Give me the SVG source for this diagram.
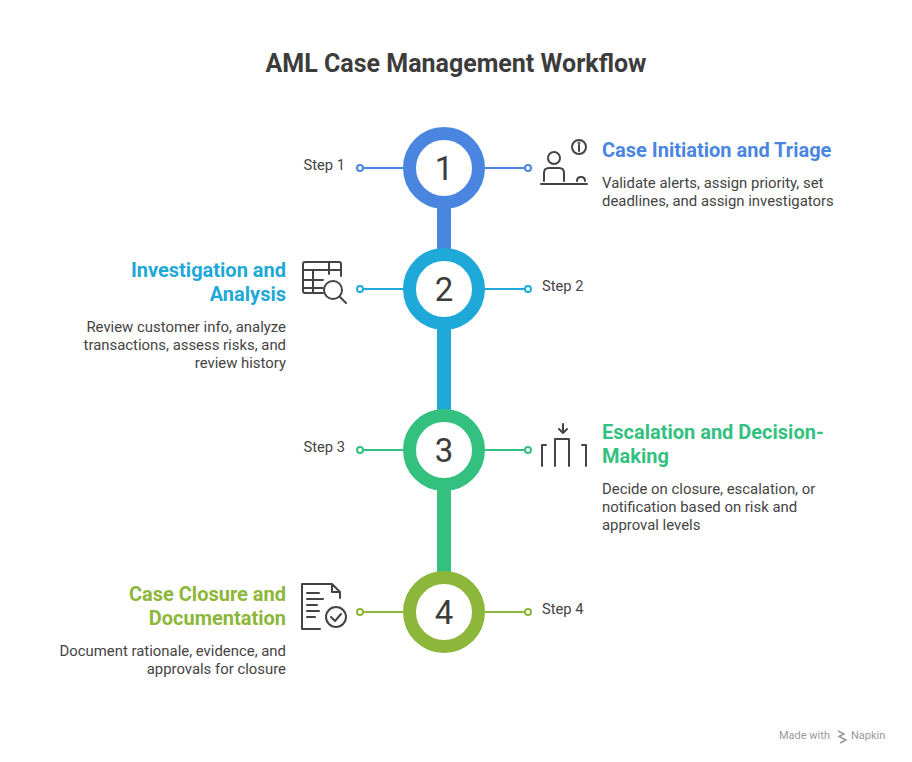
<svg xmlns="http://www.w3.org/2000/svg" width="912" height="762" viewBox="0 0 912 762">
<style>
text{font-family:Roboto,"Liberation Sans",sans-serif}
.t{font-size:25px;font-weight:bold;fill:#3c3c3c}
.h{font-size:20px;font-weight:bold}
.d{font-size:14.9px;fill:#444}
.s{font-size:14.7px;fill:#444}
.n{font-size:33px;fill:#3c3c3c;text-anchor:middle}
.ic{fill:none;stroke:#444;stroke-width:2;stroke-linecap:round;stroke-linejoin:round}
.dot{fill:#fff;stroke-width:2}
</style>
<rect width="912" height="762" fill="#fff"/>
<text class="t" x="456" y="72" text-anchor="middle">AML Case Management Workflow</text>
<g id="connectors">
<rect x="437" y="205" width="14" height="48" fill="#4A86E0"/>
<rect x="437" y="326" width="14" height="88" fill="#1EA9D8"/>
<rect x="437" y="487" width="14" height="89" fill="#34C17F"/>
<g stroke="#4A86E0" stroke-width="2"><line x1="363" y1="168" x2="404" y2="168"/><line x1="484" y1="168" x2="525" y2="168"/><circle class="dot" cx="360" cy="168" r="3"/><circle class="dot" cx="528" cy="168" r="3"/></g>
<g stroke="#1EA9D8" stroke-width="2"><line x1="363" y1="289" x2="404" y2="289"/><line x1="484" y1="289" x2="525" y2="289"/><circle class="dot" cx="360" cy="289" r="3"/><circle class="dot" cx="528" cy="289" r="3"/></g>
<g stroke="#34C17F" stroke-width="2"><line x1="363" y1="450" x2="404" y2="450"/><line x1="484" y1="450" x2="525" y2="450"/><circle class="dot" cx="360" cy="450" r="3"/><circle class="dot" cx="528" cy="450" r="3"/></g>
<g stroke="#8DB73A" stroke-width="2"><line x1="363" y1="612" x2="404" y2="612"/><line x1="484" y1="612" x2="525" y2="612"/><circle class="dot" cx="360" cy="612" r="3"/><circle class="dot" cx="528" cy="612" r="3"/></g>
</g>
<g id="step1">
<circle cx="444" cy="168" r="34.5" fill="#fff" stroke="#4A86E0" stroke-width="13"/>
<text class="n" x="444" y="180">1</text>
<text class="s" x="345" y="170" text-anchor="end">Step 1</text>
<g class="ic"><circle cx="554" cy="158" r="6"/><path d="M544 181v-8q0-5 5-5h10q5 0 5 5v8M541 184h46M577 181q0-4 4-4t4 4"/><circle cx="579" cy="147" r="7"/><path d="M579 145v6"/><circle cx="579" cy="143" r="0.5"/></g>
<text class="h" x="602" y="157" fill="#4A86E0">Case Initiation and Triage</text>
<text class="d" x="602" y="188">Validate alerts, assign priority, set</text>
<text class="d" x="602" y="206">deadlines, and assign investigators</text>
</g>
<g id="step2">
<circle cx="444" cy="289" r="34.5" fill="#fff" stroke="#1EA9D8" stroke-width="13"/>
<text class="n" x="444" y="301">2</text>
<text class="s" x="542" y="291">Step 2</text>
<g class="ic"><path d="M323 293h-18q-2 0-2-2v-27q0-2 2-2h34q2 0 2 2v12M303 270h38M303 280h20M303 288h20M313 270v23M329 262v12"/><circle cx="333" cy="290" r="9"/><path d="M340 297l6 6"/></g>
<text class="h" x="286" y="277" text-anchor="end" fill="#1EA9D8">Investigation and</text>
<text class="h" x="286" y="301" text-anchor="end" fill="#1EA9D8">Analysis</text>
<text class="d" x="286" y="332" text-anchor="end">Review customer info, analyze</text>
<text class="d" x="286" y="350" text-anchor="end">transactions, assess risks, and</text>
<text class="d" x="286" y="368" text-anchor="end">review history</text>
</g>
<g id="step3">
<circle cx="444" cy="450" r="34.5" fill="#fff" stroke="#34C17F" stroke-width="13"/>
<text class="n" x="444" y="462">3</text>
<text class="s" x="345" y="452" text-anchor="end">Step 3</text>
<g class="ic"><path d="M542 466v-21h4M555 466v-27h14v27M586 466v-21h-4M563 424v9M559 429l4 4 4-4"/></g>
<text class="h" x="602" y="439" fill="#34C17F">Escalation and Decision-</text>
<text class="h" x="602" y="463" fill="#34C17F">Making</text>
<text class="d" x="602" y="494">Decide on closure, escalation, or</text>
<text class="d" x="602" y="512">notification based on risk and</text>
<text class="d" x="602" y="530">approval levels</text>
</g>
<g id="step4">
<circle cx="444" cy="612" r="34.5" fill="#fff" stroke="#8DB73A" stroke-width="13"/>
<text class="n" x="444" y="624">4</text>
<text class="s" x="542" y="614">Step 4</text>
<g class="ic"><path d="M320 629h-18v-45h30l8 8v6M332 584v8h8M307 593h12M307 599h16M307 605h10M307 611h12M307 617h8"/><circle cx="336" cy="617" r="10"/><path d="M331 617l4 4 6-7"/></g>
<text class="h" x="286" y="601" text-anchor="end" fill="#8DB73A">Case Closure and</text>
<text class="h" x="286" y="625" text-anchor="end" fill="#8DB73A">Documentation</text>
<text class="d" x="286" y="656" text-anchor="end">Document rationale, evidence, and</text>
<text class="d" x="286" y="674" text-anchor="end">approvals for closure</text>
</g>
<text x="779" y="739" font-size="11" fill="#999">Made with</text>
<path d="M838 731l6 3-6 3M840 737l6 3-6 3" fill="none" stroke="#999" stroke-width="1.5"/>
<text x="851" y="739" font-size="11" fill="#999">Napkin</text>
</svg>
